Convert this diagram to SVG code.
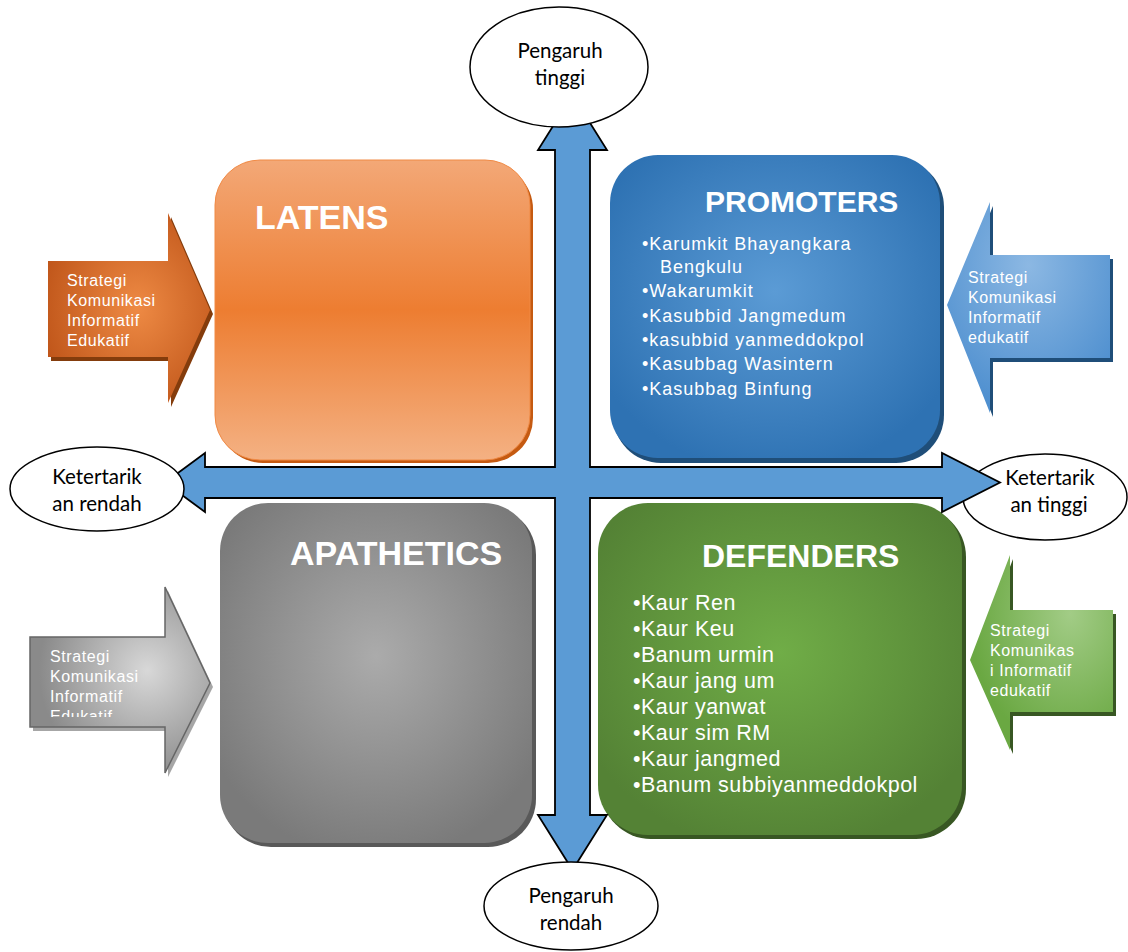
<svg xmlns="http://www.w3.org/2000/svg" width="1128" height="952" viewBox="0 0 1128 952">
<style>
.ell{fill:#fff;stroke:#000;stroke-width:1.5}
.elt{font-family:Lato,"Open Sans",sans-serif;font-size:20.5px;fill:#000;text-anchor:middle}
.title{font-family:"Liberation Sans",Arial,sans-serif;font-weight:bold;fill:#fff}
.list{font-family:"Liberation Sans",Arial,sans-serif;fill:#fff}
.side{font-family:"Liberation Sans",Arial,sans-serif;font-size:16px;fill:#fff;letter-spacing:0.6px}
</style>
<defs>
<linearGradient id="gOr" x1="0" y1="0" x2="0" y2="1">
<stop offset="0" stop-color="#F3A877"/><stop offset="0.5" stop-color="#ED7D31"/><stop offset="1" stop-color="#F4B183"/>
</linearGradient>
<radialGradient id="gBl" cx="0.5" cy="0.45" r="0.6">
<stop offset="0" stop-color="#5B9BD5"/><stop offset="1" stop-color="#2E72B3"/>
</radialGradient>
<radialGradient id="gGr" cx="0.5" cy="0.45" r="0.6">
<stop offset="0" stop-color="#ABABAB"/><stop offset="1" stop-color="#7A7A7A"/>
</radialGradient>
<radialGradient id="gGn" cx="0.5" cy="0.45" r="0.6">
<stop offset="0" stop-color="#70AD47"/><stop offset="1" stop-color="#548235"/>
</radialGradient>
<radialGradient id="aOr" cx="0.55" cy="0.5" r="0.6">
<stop offset="0" stop-color="#EE8A44"/><stop offset="1" stop-color="#C0561A"/>
</radialGradient>
<radialGradient id="aBl" cx="0.5" cy="0.3" r="0.7">
<stop offset="0" stop-color="#8CB8E3"/><stop offset="1" stop-color="#4E8FCF"/>
</radialGradient>
<radialGradient id="aGr" cx="0.65" cy="0.45" r="0.6">
<stop offset="0" stop-color="#D8D8D8"/><stop offset="1" stop-color="#8A8A8A"/>
</radialGradient>
<radialGradient id="aGn" cx="0.7" cy="0.3" r="0.7">
<stop offset="0" stop-color="#A2CC86"/><stop offset="1" stop-color="#6AA842"/>
</radialGradient>
<clipPath id="clipGray"><rect x="30" y="630" width="140" height="87"/></clipPath>
</defs>

<g id="side-latens">
<polygon points="51,265 171,265 171,217 213,314 171,407 171,361 51,361" fill="#843C0C"/>
<polygon points="48,261 168,261 168,213 210,310 168,403 168,357 48,357" fill="url(#aOr)"/>
<text class="side"><tspan x="67" y="286">Strategi</tspan><tspan x="67" y="306">Komunikasi</tspan><tspan x="67" y="326">Informatif</tspan><tspan x="67" y="346">Edukatif</tspan></text>
</g>

<g id="side-promoters">
<polygon points="950,309 993,206 993,259 1113,259 1113,362 993,362 993,417" fill="#1F4E79"/>
<polygon points="947,305 990,202 990,255 1110,255 1110,358 990,358 990,413" fill="url(#aBl)"/>
<text class="side"><tspan x="968" y="283">Strategi</tspan><tspan x="968" y="303">Komunikasi</tspan><tspan x="968" y="323">Informatif</tspan><tspan x="968" y="343">edukatif</tspan></text>
</g>

<g id="side-apathetics">
<polygon points="33,641 168,641 168,591 213,687 168,777 168,731 33,731" fill="#A6A6A6"/>
<polygon points="30,637 165,637 165,587 210,683 165,773 165,727 30,727" fill="url(#aGr)" stroke="#666" stroke-width="1.5"/>
<text class="side" clip-path="url(#clipGray)" fill="#F2F2F2"><tspan x="50" y="662">Strategi</tspan><tspan x="50" y="682">Komunikasi</tspan><tspan x="50" y="702">Informatif</tspan><tspan x="50" y="722">Edukatif</tspan></text>
</g>

<g id="side-defenders">
<polygon points="973,664 1013,559 1013,614 1116,614 1116,716 1013,716 1013,754" fill="#385723"/>
<polygon points="970,660 1010,555 1010,610 1113,610 1113,712 1010,712 1010,750" fill="url(#aGn)"/>
<text class="side"><tspan x="990" y="636">Strategi</tspan><tspan x="990" y="656">Komunikas</tspan><tspan x="990" y="676">i Informatif</tspan><tspan x="990" y="696">edukatif</tspan></text>
</g>

<g id="latens">
<rect x="218" y="164" width="315" height="299" rx="45" fill="#C55A11"/>
<rect x="215" y="160" width="315" height="300" rx="45" fill="url(#gOr)" stroke="#F08A45" stroke-width="1"/>
<text class="title" x="255" y="229" font-size="34">LATENS</text>
</g>

<g id="promoters">
<rect x="613" y="159" width="331" height="304" rx="48" fill="#1F4E79"/>
<rect x="610" y="155" width="330" height="303" rx="48" fill="url(#gBl)"/>
<text class="title" x="705" y="212" font-size="30">PROMOTERS</text>
<text class="list" font-size="18" letter-spacing="1">
<tspan x="642" y="250">•Karumkit Bhayangkara</tspan>
<tspan x="660" y="273">Bengkulu</tspan>
<tspan x="642" y="297">•Wakarumkit</tspan>
<tspan x="642" y="322">•Kasubbid Jangmedum</tspan>
<tspan x="642" y="346">•kasubbid yanmeddokpol</tspan>
<tspan x="642" y="370">•Kasubbag Wasintern</tspan>
<tspan x="642" y="395">•Kasubbag Binfung</tspan>
</text>
</g>

<g id="apathetics">
<rect x="223" y="507" width="313" height="340" rx="48" fill="#595959"/>
<rect x="220" y="503" width="312" height="340" rx="48" fill="url(#gGr)"/>
<text class="title" x="290" y="565" font-size="34">APATHETICS</text>
</g>

<g id="defenders">
<rect x="601" y="507" width="365" height="332" rx="50" fill="#385723"/>
<rect x="598" y="503" width="364" height="332" rx="50" fill="url(#gGn)"/>
<text class="title" x="702" y="567" font-size="32">DEFENDERS</text>
<text class="list" font-size="21.5" letter-spacing="0.5">
<tspan x="633" y="610">•Kaur Ren</tspan>
<tspan x="633" y="636">•Kaur Keu</tspan>
<tspan x="633" y="662">•Banum urmin</tspan>
<tspan x="633" y="688">•Kaur jang um</tspan>
<tspan x="633" y="714">•Kaur yanwat</tspan>
<tspan x="633" y="740">•Kaur sim RM</tspan>
<tspan x="633" y="766">•Kaur jangmed</tspan>
<tspan x="633" y="792">•Banum subbiyanmeddokpol</tspan>
</text>
</g>

<g id="ketertarik-tinggi">
<ellipse class="ell" cx="1045" cy="497" rx="82" ry="43"/>
</g>

<g id="connectors">
<polygon points="572.5,95 607,150 590,150 590,467 942,467 942,453 1000,482.5 942,512 942,498 590,498 590,815 607,815 572.5,870 538,815 555,815 555,498 205,498 205,512 165,482.5 205,453 205,467 555,467 555,150 538,150" fill="#5B9BD5" stroke="#000" stroke-width="1.8" stroke-linejoin="miter"/>
</g>

<g id="ketertarik-tinggi-label">
<text class="elt"><tspan x="1050" y="485">Ketertarik</tspan><tspan x="1049" y="512">an tinggi</tspan></text>
</g>

<g id="pengaruh-tinggi">
<ellipse class="ell" cx="559" cy="67" rx="89" ry="60"/>
<text class="elt"><tspan x="560" y="58">Pengaruh</tspan><tspan x="560" y="85">tinggi</tspan></text>
</g>

<g id="pengaruh-rendah">
<ellipse class="ell" cx="571" cy="906" rx="87" ry="44"/>
<text class="elt"><tspan x="571" y="903">Pengaruh</tspan><tspan x="571" y="930">rendah</tspan></text>
</g>

<g id="ketertarik-rendah">
<ellipse class="ell" cx="97" cy="489" rx="87" ry="42"/>
<text class="elt"><tspan x="97" y="484">Ketertarik</tspan><tspan x="97" y="511">an rendah</tspan></text>
</g>
</svg>
